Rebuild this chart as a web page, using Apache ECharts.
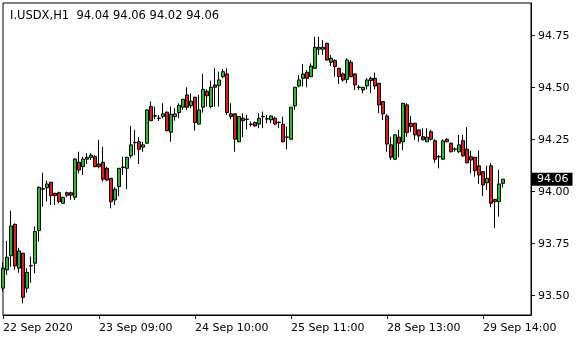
<!DOCTYPE html>
<html><head><meta charset="utf-8">
<script src="https://cdn.jsdelivr.net/npm/echarts@6/dist/echarts.min.js"></script>
<style>html,body{margin:0;padding:0;background:#fff}#c{width:580px;height:340px}</style>
</head><body><div id="c"></div>
<script>
const symbolTitle = 'I.USDX,H1  94.04 94.06 94.02 94.06';
const xTickLabels = ['22 Sep 2020','23 Sep 09:00','24 Sep 10:00','25 Sep 11:00','28 Sep 13:00','29 Sep 14:00'];
const yTickValues = [93.5, 93.75, 94.0, 94.25, 94.5, 94.75];
const lastPrice = 94.06;
const opens = [93.536,93.624,93.692,93.843,93.632,93.704,93.536,93.643,93.656,93.813,
94.012,94.019,94.045,93.992,93.995,93.944,93.995,93.995,93.973,94.141,
94.120,94.156,94.165,94.168,94.133,94.141,94.112,94.064,93.960,94.024,
94.116,94.112,94.172,94.235,94.240,94.214,94.233,94.409,94.363,94.352,
94.361,94.382,94.286,94.361,94.380,94.406,94.465,94.413,94.454,94.325,
94.406,94.483,94.409,94.513,94.510,94.553,94.566,94.374,94.374,94.240,
94.353,94.347,94.323,94.333,94.325,94.360,94.349,94.345,94.353,94.332,
94.324,94.261,94.252,94.412,94.508,94.545,94.574,94.553,94.593,94.685,
94.685,94.713,94.622,94.630,94.593,94.566,94.540,94.622,94.566,94.501,
94.489,94.508,94.545,94.545,94.521,94.433,94.364,94.225,94.156,94.262,
94.240,94.417,94.329,94.329,94.297,94.264,94.240,94.288,94.245,94.167,
94.156,94.252,94.233,94.203,94.192,94.245,94.204,94.168,94.165,94.124,
94.096,94.043,94.124,93.963,93.952,94.04];
const closes = [93.632,93.685,93.835,93.643,93.715,93.492,93.612,93.645,93.808,94.021,
94.014,94.037,93.981,93.981,93.952,93.973,93.983,93.983,94.157,94.104,
94.157,94.165,94.176,94.120,94.120,94.060,94.056,93.952,94.012,94.112,
94.118,94.165,94.225,94.237,94.204,94.225,94.393,94.341,94.365,94.354,
94.374,94.293,94.372,94.374,94.415,94.444,94.406,94.435,94.332,94.393,
94.492,94.460,94.502,94.502,94.537,94.577,94.380,94.361,94.252,94.361,
94.341,94.349,94.325,94.316,94.353,94.362,94.351,94.364,94.325,94.334,
94.240,94.263,94.406,94.502,94.537,94.566,94.545,94.604,94.694,94.694,
94.694,94.633,94.641,94.601,94.553,94.537,94.633,94.553,94.513,94.503,
94.502,94.537,94.534,94.508,94.417,94.374,94.229,94.165,94.273,94.233,
94.425,94.284,94.313,94.273,94.268,94.249,94.262,94.252,94.156,94.169,
94.244,94.240,94.192,94.205,94.225,94.172,94.139,94.152,94.101,94.080,
94.032,94.064,93.944,93.952,94.037,94.06];
const lows = [93.52,93.600,93.639,93.625,93.610,93.463,93.514,93.562,93.608,93.760,
93.928,93.952,93.936,93.936,93.944,93.942,93.973,93.961,93.960,94.088,
94.080,94.133,94.152,94.118,94.112,94.048,94.050,93.920,93.936,93.979,
94.080,94.012,94.161,94.176,94.133,94.192,94.230,94.340,94.348,94.340,
94.353,94.290,94.240,94.341,94.353,94.393,94.393,94.401,94.293,94.323,
94.380,94.409,94.401,94.409,94.409,94.545,94.369,94.348,94.192,94.238,
94.262,94.300,94.313,94.313,94.305,94.305,94.329,94.329,94.320,94.305,
94.237,94.204,94.249,94.393,94.502,94.505,94.502,94.550,94.592,94.657,
94.657,94.630,94.604,94.553,94.518,94.529,94.521,94.550,94.489,94.489,
94.473,94.492,94.473,94.492,94.377,94.345,94.192,94.152,94.152,94.165,
94.200,94.264,94.288,94.249,94.240,94.247,94.238,94.245,94.139,94.112,
94.154,94.238,94.188,94.192,94.185,94.168,94.136,94.088,94.072,94.037,
93.979,94.008,93.925,93.824,93.880,94.02];
const highs = [93.66,93.763,93.909,93.847,93.730,93.706,93.632,93.688,93.832,94.025,
94.091,94.053,94.047,93.995,94.000,93.975,94.000,94.000,94.160,94.192,
94.168,94.185,94.185,94.176,94.249,94.216,94.120,94.066,94.021,94.115,
94.168,94.168,94.316,94.297,94.262,94.240,94.395,94.433,94.409,94.369,
94.425,94.385,94.409,94.401,94.425,94.445,94.502,94.473,94.456,94.465,
94.566,94.492,94.534,94.593,94.577,94.589,94.593,94.425,94.376,94.361,
94.377,94.369,94.337,94.337,94.377,94.385,94.369,94.366,94.361,94.337,
94.361,94.313,94.406,94.503,94.561,94.614,94.585,94.617,94.745,94.745,
94.729,94.716,94.657,94.637,94.595,94.572,94.641,94.633,94.568,94.513,
94.503,94.545,94.553,94.572,94.523,94.435,94.373,94.264,94.274,94.297,
94.426,94.425,94.364,94.330,94.298,94.305,94.305,94.297,94.252,94.176,
94.252,94.256,94.235,94.213,94.273,94.273,94.310,94.197,94.166,94.197,
94.097,94.124,94.137,93.965,94.104,94.06];

const BARS_PER_LABEL = 24;
const EMPTY_RIGHT = 7;
const nCats = opens.length + EMPTY_RIGHT;
const categories = [];
for (let i = 0; i < nCats; i++) categories.push('b' + i);
const candleData = opens.map((o, i) => [o, closes[i], lows[i], highs[i]]);
const isLabelIdx = (i) => i % BARS_PER_LABEL === 0 && (i / BARS_PER_LABEL) < xTickLabels.length;

const font = 'DejaVu Sans';
const chart = echarts.init(document.getElementById('c'), null, {renderer: 'canvas'});
chart.setOption({
  animation: false,
  backgroundColor: '#fff',
  title: {
    text: symbolTitle, left: 5, top: 5,
    textStyle: {fontFamily: font, fontSize: 11.5, fontWeight: 'normal', color: '#000'}
  },
  grid: {left: 3, top: 3, width: 528, height: 312, show: true, borderColor: '#000', borderWidth: 1, backgroundColor: '#fff'},
  xAxis: {
    type: 'category', data: categories, boundaryGap: false,
    axisLine: {show: true, lineStyle: {color: '#000', width: 1}},
    axisTick: {show: true, length: 4, interval: (i) => isLabelIdx(i), lineStyle: {color: '#000'}},
    axisLabel: {
      show: true, interval: (i) => isLabelIdx(i), align: 'left', margin: 8,
      fontFamily: font, fontSize: 11, color: '#000',
      formatter: (v, i) => xTickLabels[i / BARS_PER_LABEL] || ''
    },
    splitLine: {show: false}
  },
  yAxis: {
    type: 'value', position: 'right', min: 93.407, max: 94.907, scale: true,
    axisLine: {show: true, lineStyle: {color: '#000', width: 1}},
    axisTick: {show: true, length: 4, customValues: yTickValues, lineStyle: {color: '#000'}},
    axisLabel: {show: true, customValues: yTickValues, margin: 7, fontFamily: font, fontSize: 11, color: '#000',
      formatter: (v) => v.toFixed(2)},
    splitLine: {show: false}
  },
  series: [{
    type: 'candlestick',
    data: candleData,
    barWidth: 3,
    z: 2,
    itemStyle: {color: '#22C022', color0: '#E41B1B', borderColor: '#000', borderColor0: '#000', borderColorDoji: '#000', borderWidth: 1},
    markLine: {
      silent: true, symbol: 'none', animation: false, z: 10,
      lineStyle: {color: 'rgba(0,0,0,0)', width: 1, type: 'solid'},
      label: {show: true, position: 'end', distance: 1, formatter: lastPrice.toFixed(2),
        backgroundColor: '#000', color: '#fff', fontFamily: font, fontSize: 11, padding: [1, 4, 1, 5]},
      data: [{yAxis: lastPrice}]
    }
  }]
});
</script></body></html>
